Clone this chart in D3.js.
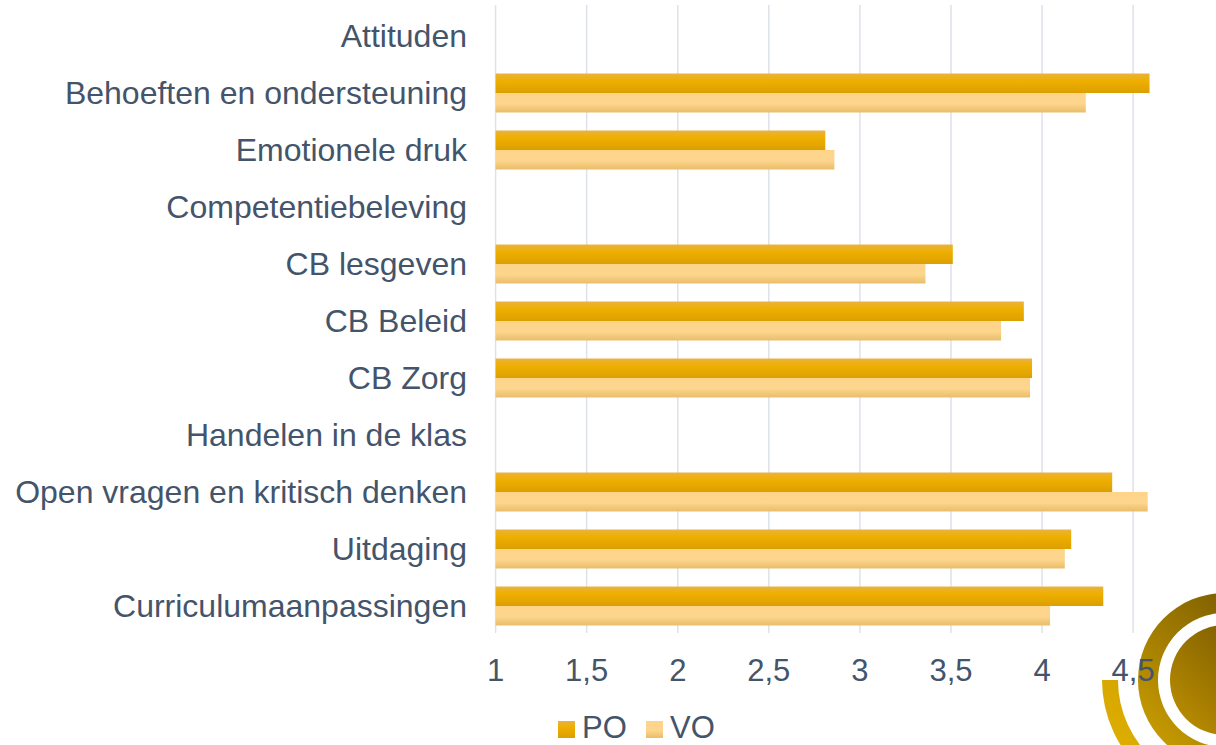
<!DOCTYPE html>
<html>
<head>
<meta charset="utf-8">
<script src="https://cdn.jsdelivr.net/npm/d3@7"></script>
<style>
  html, body { margin: 0; padding: 0; background: #fff; }
  svg { display: block; font-family: "Liberation Sans", Arial, sans-serif; }
</style>
</head>
<body>
<div id="chart"></div>
<script>
// Data
const categories = ["Attituden", "Behoeften en ondersteuning", "Emotionele druk", "Competentiebeleving",
  "CB lesgeven", "CB Beleid", "CB Zorg", "Handelen in de klas",
  "Open vragen en kritisch denken", "Uitdaging", "Curriculumaanpassingen"];
const seriesNames = ["PO", "VO"];
const poValues = [null, 4.59, 2.81, null, 3.51, 3.90, 3.945, null, 4.385, 4.16, 4.336];
const voValues = [null, 4.24, 2.86, null, 3.36, 3.775, 3.934, null, 4.58, 4.125, 4.044];
const gridTicks = [1, 1.5, 2, 2.5, 3, 3.5, 4, 4.5, 5];
const tickLabels = [1, 1.5, 2, 2.5, 3, 3.5, 4, 4.5];

const width = 1216, height = 745;
const textColor = "#44546a";

const svg = d3.select("#chart").append("svg")
    .attr("width", width)
    .attr("height", height);

const defs = svg.append("defs");

function vGrad(id, stops) {
  const g = defs.append("linearGradient").attr("id", id)
      .attr("x1", 0).attr("y1", 0).attr("x2", 0).attr("y2", 1);
  stops.forEach(s => g.append("stop").attr("offset", s[0]).attr("stop-color", s[1]));
}
vGrad("gradPO", [["0%", "#e8b242"], ["35%", "#efb000"], ["100%", "#dc9f00"]]);
vGrad("gradVO", [["0%", "#fdd48a"], ["55%", "#fdd58c"], ["100%", "#e8bd6a"]]);

function dGrad(id, c1, c2) {
  const g = defs.append("linearGradient").attr("id", id)
      .attr("x1", 1).attr("y1", 0).attr("x2", 0).attr("y2", 1);
  g.append("stop").attr("offset", "0%").attr("stop-color", c1);
  g.append("stop").attr("offset", "100%").attr("stop-color", c2);
}
dGrad("gradRing", "#634800", "#d4a600");
dGrad("gradCore", "#6e5000", "#c09200");
dGrad("gradOuter", "#c99c00", "#e6b400");

// Decorative logo, bottom right
const logo = svg.append("g").attr("transform", "translate(1225,680)");
const arc = d3.arc();
logo.append("path")
    .attr("d", arc({ innerRadius: 107, outerRadius: 123, startAngle: -Math.PI / 2, endAngle: -Math.PI * 1.05 }))
    .attr("fill", "url(#gradOuter)");
logo.append("path")
    .attr("d", arc({ innerRadius: 67, outerRadius: 87, startAngle: 0, endAngle: 2 * Math.PI }))
    .attr("fill", "url(#gradRing)");
logo.append("circle").attr("r", 55).attr("fill", "url(#gradCore)");

// Scales
const x = d3.scaleLinear().domain([1, 5]).range([495.6, 1224.2]);
const y = d3.scaleBand().domain(categories).range([7.5, 634.5])
    .paddingInner(0.316).paddingOuter(0.158);
const ySub = d3.scaleBand().domain(seriesNames).range([0, y.bandwidth()]);
const fills = { PO: "url(#gradPO)", VO: "url(#gradVO)" };

// Gridlines
svg.append("g")
  .selectAll("line")
  .data(gridTicks)
  .join("line")
    .attr("x1", d => x(d)).attr("x2", d => x(d))
    .attr("y1", 5).attr("y2", 633)
    .attr("stroke", "#dde2ea")
    .attr("stroke-width", 1.5);

// Bars
const rows = categories.map((c, i) => ({ cat: c, PO: poValues[i], VO: voValues[i] }));
const groups = svg.append("g")
  .selectAll("g")
  .data(rows)
  .join("g")
    .attr("transform", d => `translate(0,${y(d.cat)})`);

groups.selectAll("rect")
  .data(d => seriesNames.filter(s => d[s] != null).map(s => ({ s, v: d[s] })))
  .join("rect")
    .attr("x", x(1))
    .attr("y", d => ySub(d.s))
    .attr("width", d => x(d.v) - x(1))
    .attr("height", ySub.bandwidth())
    .attr("fill", d => fills[d.s]);

// Category labels
svg.append("g")
  .selectAll("text")
  .data(categories)
  .join("text")
    .attr("x", 467)
    .attr("y", d => y(d) + y.bandwidth() / 2)
    .attr("dy", "0.35em")
    .attr("text-anchor", "end")
    .attr("fill", textColor)
    .attr("font-size", 32)
    .text(d => d);

// X axis tick labels
svg.append("g")
  .selectAll("text")
  .data(tickLabels)
  .join("text")
    .attr("x", d => x(d))
    .attr("y", 670)
    .attr("dy", "0.35em")
    .attr("text-anchor", "middle")
    .attr("fill", textColor)
    .attr("font-size", 31)
    .text(d => d3.format("")(d).replace(".", ","));

// Legend
const legend = svg.append("g").attr("transform", "translate(558,721)");
const legendX = [0, 88];
seriesNames.forEach((s, i) => {
  const g = legend.append("g").attr("transform", `translate(${legendX[i]},0)`);
  g.append("rect").attr("width", 17).attr("height", 17).attr("fill", fills[s]);
  g.append("text")
      .attr("x", 24).attr("y", 6.5).attr("dy", "0.35em")
      .attr("fill", textColor).attr("font-size", 31)
      .text(s);
});
</script>
</body>
</html>
